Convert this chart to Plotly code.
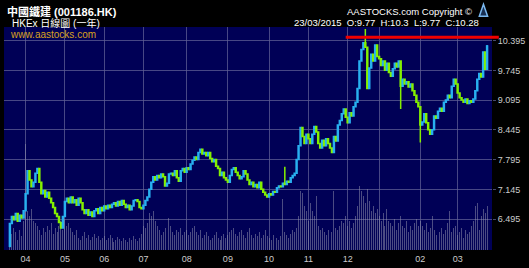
import plotly.graph_objects as go

# ---------------- data ----------------
month_labels = ["04", "05", "06", "07", "08", "09", "10", "11", "12", "", "02", "03"]
price_ticks = [6.495, 7.145, 7.795, 8.445, 9.095, 9.745, 10.395]

first_open = 5.90
closes_mar14 = [6.40, 6.55, 6.48, 6.62, 6.45, 6.58, 6.52, 6.68]
closes_apr = [7.05, 7.55, 7.35, 7.20, 7.30, 7.50, 7.60, 7.30, 7.05, 7.12,
              6.98, 7.08, 6.95, 6.85, 6.75, 6.62, 6.55, 6.42, 6.30, 6.55]
closes_may = [6.88, 6.95, 6.85, 6.98, 6.85, 6.92, 6.80, 6.95, 6.85, 6.70,
              6.62, 6.70, 6.58, 6.65, 6.55, 6.68, 6.72, 6.62, 6.75, 6.68]
closes_jun = [6.78, 6.72, 6.80, 6.75, 6.82, 6.85, 6.78, 6.88, 6.80, 6.90,
              6.82, 6.75, 6.80, 6.70, 6.78, 6.90, 6.92, 6.88, 6.75, 6.72]
closes_jul = [6.80, 6.90, 6.98, 7.15, 7.30, 7.42, 7.35, 7.45, 7.40, 7.48, 7.42,
              7.22, 7.28, 7.48, 7.50, 7.45, 7.55, 7.40, 7.32, 7.55, 7.60, 7.52]
closes_aug = [7.62, 7.58, 7.70, 7.78, 7.85, 7.80, 7.95, 8.02, 7.92, 7.95, 7.88,
              7.95, 7.82, 7.75, 7.80, 7.65, 7.60, 7.45, 7.52, 7.40, 7.35]
closes_sep = [7.30, 7.45, 7.58, 7.62, 7.52, 7.45, 7.38, 7.42, 7.55, 7.48, 7.35,
              7.25, 7.30, 7.20, 7.25, 7.18, 7.30, 7.15, 7.08, 7.02, 6.98]
closes_oct = [7.05, 7.02, 7.10, 7.08, 7.18, 7.22, 7.20, 7.28, 7.25, 7.32,
              7.30, 7.40, 7.45, 7.50, 7.80, 8.10, 8.50, 8.30, 8.15, 8.35]
closes_nov = [8.25, 8.15, 8.35, 8.52, 8.40, 8.15, 8.05, 8.22, 8.10, 8.25,
              8.15, 8.05, 7.95, 8.30, 8.20, 8.55, 8.65, 8.80, 8.90, 8.72]
closes_dec = [8.60, 8.82, 8.75, 8.95, 9.05, 9.35, 9.95, 10.20, 10.35, 10.25,
              9.35, 9.80, 10.10, 9.95, 10.30, 10.05]
closes_jan = [10.00, 9.85, 9.95, 9.75, 9.90, 9.70, 9.62, 9.78, 9.90, 9.82, 9.95,
              9.40, 9.55, 9.45, 9.50, 9.38, 9.45, 9.30, 9.20, 9.05, 8.95]
closes_feb = [8.55, 8.62, 8.80, 8.60, 8.45, 8.35, 8.45, 8.75, 8.70, 8.85,
              8.92, 8.85, 9.05, 9.10, 9.20, 9.15, 9.40, 9.55, 9.45]
closes_mar15 = [9.25, 9.15, 9.10, 9.05, 9.12, 9.02, 9.08, 9.05, 9.12, 9.30,
                9.55, 9.68, 9.60, 10.15, 9.77, 10.28]

# notable wicks: index -> value
wick_highs = {140: 7.64, 181: 10.65, 243: 10.30}
wick_lows = {0: 5.88, 199: 8.90, 209: 8.17, 147: 7.90}

vol_mar14 = [12, 16, 22, 18, 10, 20, 14, 30]
vol_apr = [108, 40, 35, 42, 30, 28, 25, 20, 15, 22, 18, 25, 20, 28, 16, 22, 18, 25, 30, 20]
vol_may = [32, 25, 28, 22, 18, 15, 20, 12, 10, 14, 18, 12, 15, 10, 13, 16, 12, 14, 10, 12]
vol_jun = [14, 10, 12, 15, 12, 8, 10, 13, 11, 9, 12, 10, 8, 12, 10, 14, 11, 9, 12, 16]
vol_jul = [25, 22, 28, 38, 35, 40, 30, 25, 20, 15, 18, 22, 20, 33, 25, 18, 15, 20, 18, 22, 15, 18]
vol_aug = [20, 15, 18, 22, 25, 18, 15, 20, 12, 15, 18, 14, 10, 12, 15, 18, 12, 10, 14, 16, 12]
vol_sep = [15, 18, 20, 22, 16, 14, 18, 20, 15, 12, 18, 22, 15, 12, 16, 14, 18, 12, 15, 20, 14]
vol_oct = [12, 10, 15, 18, 12, 10, 14, 52, 18, 15, 12, 16, 20, 18, 22, 35, 60, 58, 45, 40]
vol_nov = [30, 48, 40, 35, 55, 25, 20, 22, 18, 15, 20, 25, 18, 60, 22, 20, 25, 30, 28, 35]
vol_dec = [25, 30, 22, 28, 35, 45, 65, 60, 55, 48, 62, 50, 40, 45, 38, 42]
vol_jan = [35, 30, 38, 25, 42, 30, 28, 25, 32, 20, 28, 35, 25, 22, 30, 18, 25, 20, 28, 32, 25]
vol_feb = [30, 25, 20, 28, 18, 22, 35, 20, 15, 25, 18, 22, 16, 20, 28, 40, 18, 22, 25]
vol_mar15 = [15, 18, 22, 12, 20, 16, 18, 25, 30, 45, 48, 20, 35, 42, 38, 45]

red_line_value = 10.47
red_line_start = 171

# ---------------- assemble ----------------
month_closes = [closes_apr, closes_may, closes_jun, closes_jul, closes_aug, closes_sep,
                closes_oct, closes_nov, closes_dec, closes_jan, closes_feb, closes_mar15]
month_vols = [vol_apr, vol_may, vol_jun, vol_jul, vol_aug, vol_sep,
              vol_oct, vol_nov, vol_dec, vol_jan, vol_feb, vol_mar15]

closes = list(closes_mar14)
vols = list(vol_mar14)
month_starts = []
for c, v in zip(month_closes, month_vols):
    month_starts.append(len(closes))
    closes += c
    vols += v

n = len(closes)
idx = list(range(n))
opens = [first_open] + closes[:-1]
highs = [max(o, c) for o, c in zip(opens, closes)]
lows = [min(o, c) for o, c in zip(opens, closes)]
for k, v in wick_highs.items():
    highs[k] = max(highs[k], v)
for k, v in wick_lows.items():
    lows[k] = min(lows[k], v)

x_range = [-3.0, n + 1.5]
price_range = [5.82, 10.694]

FONT = "Liberation Sans, Arial, Noto Sans CJK TC, sans-serif"
GRID = "rgba(95,95,150,0.75)"

fig = go.Figure()
fig.add_trace(go.Bar(
    x=idx, y=vols, width=0.5, yaxis="y",
    marker=dict(color="rgba(150,150,175,0.5)", line=dict(width=0)),
    hoverinfo="skip", showlegend=False))
fig.add_trace(go.Candlestick(
    x=idx, open=opens, high=highs, low=lows, close=closes, yaxis="y2",
    increasing=dict(line=dict(color="#28b0f0", width=1.5), fillcolor="#28b0f0"),
    decreasing=dict(line=dict(color="#84f000", width=1.5), fillcolor="#84f000"),
    whiskerwidth=0, showlegend=False))

x0_paper = (red_line_start - x_range[0]) / (x_range[1] - x_range[0])
fig.add_shape(type="line", xref="paper", yref="y2",
              x0=x0_paper, x1=1.014, y0=red_line_value, y1=red_line_value,
              line=dict(color="#f00000", width=3))

fig.update_layout(
    width=529, height=268,
    margin=dict(l=4, r=33, t=27, b=13),
    paper_bgcolor="#000000", plot_bgcolor="#000056",
    font=dict(family=FONT, color="#d0d0d0", size=9),
    bargap=0,
    xaxis=dict(range=x_range, tickmode="array", tickvals=month_starts, ticktext=month_labels,
               showgrid=True, gridcolor=GRID, gridwidth=1, zeroline=False, showline=False,
               ticks="", ticklabelstandoff=2, tickfont=dict(size=9, color="#cccccc"),
               rangeslider=dict(visible=False), fixedrange=True),
    yaxis=dict(range=[0, 228], visible=False, showgrid=False, zeroline=False, fixedrange=True),
    yaxis2=dict(range=price_range, overlaying="y", side="right", tickmode="array",
                tickvals=price_ticks, ticktext=[f"{v:.3f}" for v in price_ticks],
                showgrid=True, gridcolor=GRID, gridwidth=1, zeroline=False, showline=False,
                ticks="outside", ticklen=3, tickcolor=GRID,
                tickfont=dict(size=9, color="#cccccc"), fixedrange=True),
    showlegend=False,
)

annots = [
    dict(text="<b>中國鐵建 (001186.HK)</b>", x=0.002, y=1.068, xanchor="left", yanchor="middle",
         font=dict(size=11, color="#ffffff")),
    dict(text="HKEx 日線圖 (一年)", x=0.012, y=1.020, xanchor="left", yanchor="middle",
         font=dict(size=10, color="#ffffff")),
    dict(text="AASTOCKS.com Copyright ©", x=0.963, y=1.068, xanchor="right", yanchor="middle",
         font=dict(size=9.5, color="#ffffff")),
    dict(text="23/03/2015  O:9.77  H:10.3  L:9.77  C:10.28", x=0.978, y=1.020,
         xanchor="right", yanchor="middle", font=dict(size=9.5, color="#ffffff")),
    dict(text="www.aastocks.com", x=0.008, y=0.966, xanchor="left", yanchor="middle",
         font=dict(size=10, color="#d8a020")),
]
for a in annots:
    a.update(xref="paper", yref="paper", showarrow=False)
fig.update_layout(annotations=annots)

# small logo mark next to copyright text
fig.add_shape(type="path", xref="paper", yref="paper",
              path="M 0.9740 1.048 L 0.9825 1.102 L 0.9910 1.048 Z",
              line=dict(color="#7ab8f0", width=1.5), fillcolor="rgba(40,80,140,0.6)")

fig.write_html("out.html")
